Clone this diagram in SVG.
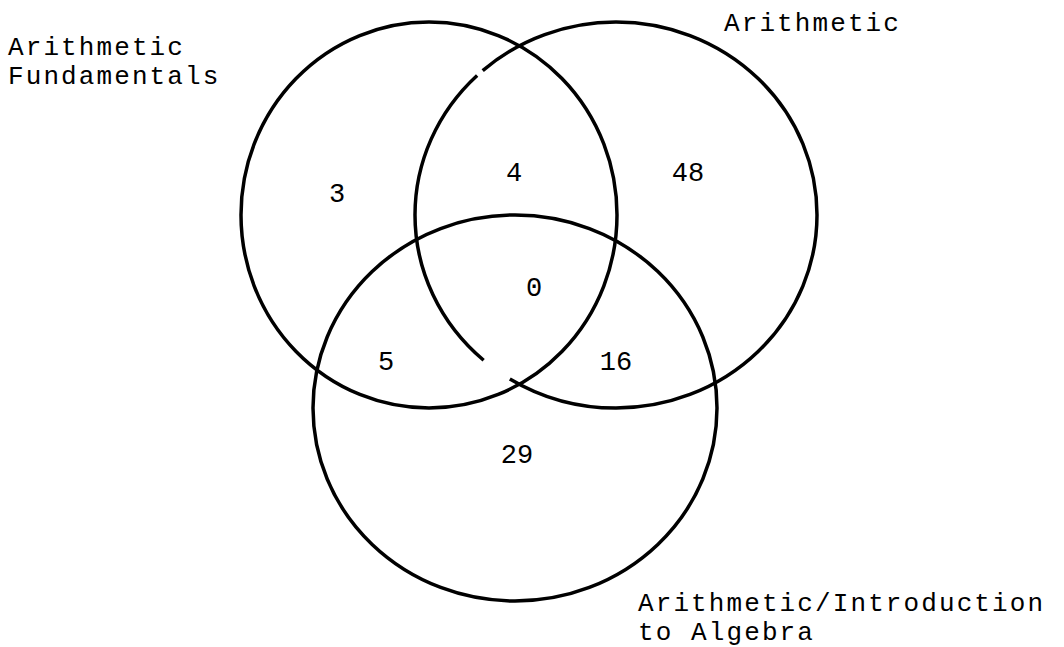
<svg xmlns="http://www.w3.org/2000/svg" width="1064" height="647" viewBox="0 0 1064 647">
  <style>
    .set { fill: none; stroke: #000; stroke-width: 3.5; }
    .label { font-family: "Liberation Mono", "DejaVu Sans Mono", monospace; font-size: 26px; letter-spacing: 2.1px; fill: #000; }
    .num { font-family: "Liberation Mono", "DejaVu Sans Mono", monospace; font-size: 27px; fill: #000; text-anchor: middle; }
  </style>
  <rect x="0" y="0" width="1064" height="647" fill="#fff"/>
  <g id="set-arithmetic-fundamentals">
    <ellipse class="set" cx="429" cy="215" rx="188" ry="193"/>
    <text class="label" x="8" y="55">Arithmetic</text>
    <text class="label" x="8" y="84">Fundamentals</text>
  </g>
  <g id="set-arithmetic">
    <ellipse class="set" cx="616" cy="215" rx="201" ry="193" pathLength="1000" stroke-dasharray="340 26 261 6 367"/>
    <text class="label" x="724" y="31">Arithmetic</text>
  </g>
  <g id="set-arithmetic-intro-algebra">
    <ellipse class="set" cx="515" cy="408" rx="202" ry="193"/>
    <text class="label" x="638" y="611">Arithmetic/Introduction</text>
    <text class="label" x="638" y="640">to Algebra</text>
  </g>
  <g id="region-counts">
    <text class="num" x="337" y="202">3</text>
    <text class="num" x="514" y="181">4</text>
    <text class="num" x="688" y="181">48</text>
    <text class="num" x="534" y="296">0</text>
    <text class="num" x="386" y="370">5</text>
    <text class="num" x="616" y="370">16</text>
    <text class="num" x="517" y="463">29</text>
  </g>
</svg>
